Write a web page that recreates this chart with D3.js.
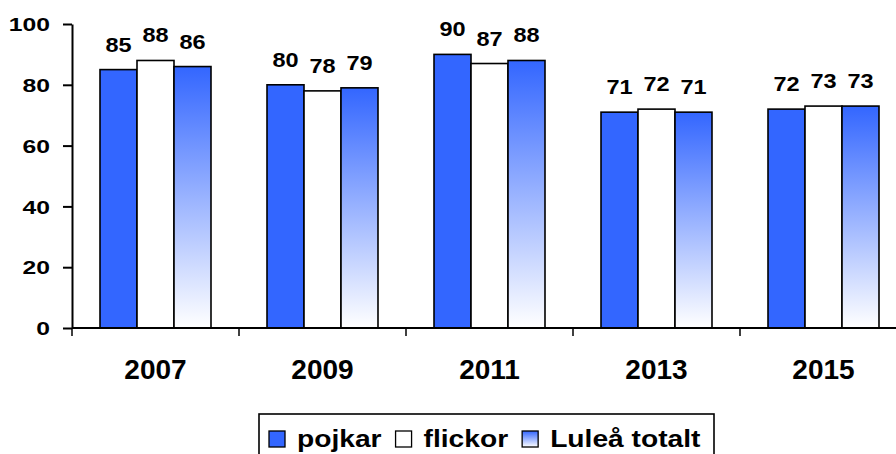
<!DOCTYPE html>
<html>
<head>
<meta charset="utf-8">
<script src="https://cdn.jsdelivr.net/npm/d3@7"></script>
<style>
	body { margin: 0; background: #fff; }
	svg { display: block; font-family: "Liberation Sans", Arial, sans-serif; font-weight: bold; }
	svg text { font-family: "Liberation Sans", Arial, sans-serif; font-weight: bold; }
</style>
</head>
<body>
<svg class="svgWrapper" width="896" height="454"></svg>
<script>

// data
const years = ['2007', '2009', '2011', '2013', '2015'];
const seriesNames = ['pojkar', 'flickor', 'Luleå totalt'];
const pojkar = [85, 80, 90, 71, 72];
const flickor = [88, 78, 87, 72, 73];
const totalt = [86, 79, 88, 71, 73];
const yTicks = [0, 20, 40, 60, 80, 100];

const seriesVals = [pojkar, flickor, totalt];
const blue = '#3366ff';

const svgObj = d3.select('.svgWrapper');

const plotLeft = 72, plotBottom = 328, plotTop = 24;
const step = 167;

const x0 = d3.scaleBand()
	.domain(years)
	.range([plotLeft, plotLeft + years.length * step]);

const x1 = d3.scaleBand()
	.domain(seriesNames)
	.range([0, x0.bandwidth()])
	.paddingOuter(0.757);

const y = d3.scaleLinear()
	.domain([0, 100])
	.range([plotBottom, plotTop]);

//gradient for the "totalt" bars, blue at the top fading to white
const defs = svgObj.append('defs');
const grad = defs.append('linearGradient')
	.attr('id', 'totGrad')
	.attr('x1', 0).attr('y1', 0)
	.attr('x2', 0).attr('y2', 1);
grad.append('stop').attr('offset', '0%').attr('stop-color', blue);
grad.append('stop').attr('offset', '100%').attr('stop-color', '#ffffff');

const fills = [blue, '#ffffff', 'url(#totGrad)'];

// bars
const groups = svgObj.append('g').selectAll('g')
	.data(years)
	.join('g')
	.attr('transform', d => `translate(${x0(d)},0)`);

const cells = groups.selectAll('g.cell')
	.data((yr, i) => seriesNames.map((s, j) => ({ s, j, v: seriesVals[j][i] })))
	.join('g')
	.attr('class', 'cell');

cells.append('rect')
	.attr('x', d => x1(d.s))
	.attr('y', d => y(d.v))
	.attr('width', x1.bandwidth())
	.attr('height', d => plotBottom - y(d.v))
	.attr('fill', d => fills[d.j])
	.attr('stroke', '#000')
	.attr('stroke-width', 1.6);

// value labels above each bar
cells.append('text')
	.attr('text-anchor', 'middle')
	.attr('transform', d => `translate(${x1(d.s) + x1.bandwidth() / 2},${y(d.v) - 18}) scale(1.12,1)`)
	.attr('font-size', 21)
	.attr('fill', '#000')
	.text(d => d.v);

// y axis
const yAxisG = svgObj.append('g')
	.attr('transform', `translate(${plotLeft},0)`)
	.call(d3.axisLeft(y).tickValues(yTicks).tickSize(9).tickSizeOuter(0))
	.attr('font-family', null);

yAxisG.select('.domain').attr('stroke', '#000').attr('stroke-width', 2);
yAxisG.selectAll('.tick line').attr('stroke', '#000').attr('stroke-width', 2);
yAxisG.selectAll('.tick text')
	.attr('x', 0)
	.attr('dy', '0.35em')
	.attr('transform', 'translate(-22,0) scale(1.3,1)')
	.attr('font-size', 19)
	.attr('fill', '#000');

// x axis: labels at band centres, ticks at the band edges
const xAxisG = svgObj.append('g')
	.attr('transform', `translate(0,${plotBottom})`)
	.call(d3.axisBottom(x0).tickSize(0).tickSizeOuter(0))
	.attr('font-family', null);

xAxisG.select('.domain').remove();
xAxisG.selectAll('.tick text')
	.attr('y', 51)
	.attr('dy', 0)
	.attr('font-size', 28)
	.attr('fill', '#000');

xAxisG.append('line')
	.attr('x1', plotLeft).attr('x2', 896)
	.attr('y1', 0).attr('y2', 0)
	.attr('stroke', '#000')
	.attr('stroke-width', 2);

xAxisG.selectAll('line.edge')
	.data(years)
	.join('line')
	.attr('class', 'edge')
	.attr('x1', d => x0(d)).attr('x2', d => x0(d))
	.attr('y1', 0).attr('y2', 8)
	.attr('stroke', '#000')
	.attr('stroke-width', 1.5);

// legend
const legendG = svgObj.append('g');

legendG.append('rect')
	.attr('x', 259)
	.attr('y', 414)
	.attr('width', 455)
	.attr('height', 60)
	.attr('fill', '#fff')
	.attr('stroke', '#000')
	.attr('stroke-width', 1.6);

let lx = 269;
seriesNames.forEach((name, j) => {
	legendG.append('rect')
		.attr('x', lx)
		.attr('y', 431)
		.attr('width', 16)
		.attr('height', 16)
		.attr('fill', fills[j])
		.attr('stroke', '#000')
		.attr('stroke-width', 1.3);
	lx += 28;
	const t = legendG.append('text')
		.attr('transform', `translate(${lx},447) scale(1.2,1)`)
		.attr('font-size', 23.5)
		.attr('fill', '#000')
		.text(name);
	lx += t.node().getComputedTextLength() * 1.2 + 14;
});

</script>
</body>
</html>
